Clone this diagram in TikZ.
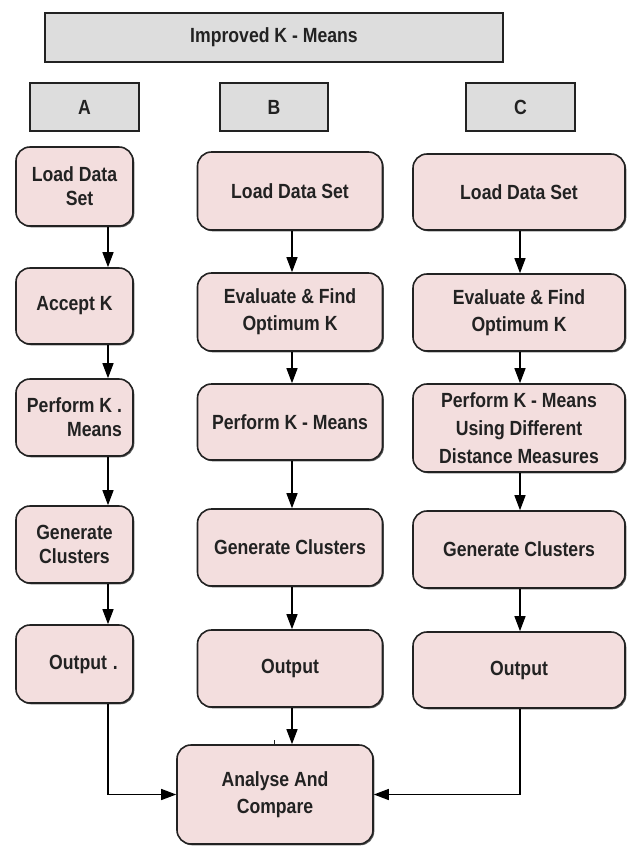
\documentclass[tikz,border=0pt]{standalone}
\usepackage{fontspec}
\setmainfont{Liberation Sans}[FakeStretch=0.86]
\usetikzlibrary{arrows.meta,shadows}
\definecolor{stepfill}{RGB}{243,222,222}
\definecolor{headfill}{RGB}{221,221,221}
\definecolor{inkgray}{RGB}{34,34,34}
\begin{document}
\begin{tikzpicture}[x=1pt,y=-1pt,
  base/.style={draw=inkgray, line width=1.6pt, text=inkgray,
    font=\fontsize{20.5}{27}\selectfont\bfseries, align=center, inner sep=0pt,
    drop shadow={shadow xshift=1.3pt,shadow yshift=-1.3pt,fill=black!65,opacity=1}},
  header/.style={base, fill=headfill, rectangle},
  stepbox/.style={base, fill=stepfill, rounded corners=14pt},
  flow/.style={draw=black, line width=1.3pt, -{Triangle[length=15pt,width=11pt]}},
  tight/.style={font=\fontsize{20.5}{24}\selectfont\bfseries},
]
\fill[white] (0,0) rectangle (627,847);
\useasboundingbox (0,0) rectangle (627,847);

% headers
\node[header, minimum width=458, minimum height=49] (title) at (274,37.5) {Improved K - Means};
\node[header, minimum width=109, minimum height=48] (hA) at (84.5,107) {A};
\node[header, minimum width=108, minimum height=48] (hB) at (274,107) {B};
\node[header, minimum width=109, minimum height=48] (hC) at (520.5,107) {C};

% arrow lanes
\coordinate (ax) at (108,0);
\coordinate (bx) at (292,0);
\coordinate (cx) at (520,0);

% column A
\begin{scope}[every node/.append style={stepbox, minimum width=117}]
\node[minimum height=79, tight] (a1) at (74.5,186.5) {Load Data\\\hspace*{10pt}Set};
\node[minimum height=76] (a2) at (74.5,306) {Accept K};
\node[minimum height=77, align=right, tight] (a3) at (74.5,417.5) {Perform K .\\Means};
\node[minimum height=77, tight] (a4) at (74.5,544.5) {Generate\\Clusters};
\node[minimum height=78] (a5) at (74.5,664) {\hspace*{18pt}Output\hspace{6pt}.};
\end{scope}

% column B
\begin{scope}[every node/.append style={stepbox, minimum width=185}]
\node[minimum height=78] (b1) at (290,191) {Load Data Set};
\node[minimum height=78] (b2) at (290,312) {Evaluate \& Find\\Optimum K};
\node[minimum height=76] (b3) at (290,422) {Perform K - Means};
\node[minimum height=77] (b4) at (290,547.5) {Generate Clusters};
\node[minimum height=77] (b5) at (290,668.5) {Output};
\end{scope}

% column C
\begin{scope}[every node/.append style={stepbox, minimum width=212}]
\node[minimum height=76] (c1) at (519,192) {Load Data Set};
\node[minimum height=77] (c2) at (519,312.5) {Evaluate \& Find\\Optimum K};
\node[minimum height=88, font=\fontsize{20.5}{28}\selectfont\bfseries] (c3) at (519,428) {Perform K - Means\\Using Different\\Distance Measures};
\node[minimum height=77] (c4) at (519,549.5) {Generate Clusters};
\node[minimum height=76] (c5) at (519,670) {Output};
\end{scope}

% final step
\node[stepbox, minimum width=196, minimum height=99] (an) at (275,794.5) {Analyse And\\Compare};

% connectors
\foreach \u/\v in {a1/a2,a2/a3,a3/a4,a4/a5}
  \draw[flow] (\u.south -| ax) -- (\v.north -| ax);
\foreach \u/\v in {b1/b2,b2/b3,b3/b4,b4/b5,b5/an}
  \draw[flow] (\u.south -| bx) -- (\v.north -| bx);
\foreach \u/\v in {c1/c2,c2/c3,c3/c4,c4/c5}
  \draw[flow] (\u.south -| cx) -- (\v.north -| cx);
\draw[flow] (a5.south -| ax) |- (an.west);
\draw[flow] (c5.south -| cx) |- (an.east);
\draw[line width=1pt, inkgray] (an.north -| 274,0) -- ++(0,-4);
\end{tikzpicture}
\end{document}
